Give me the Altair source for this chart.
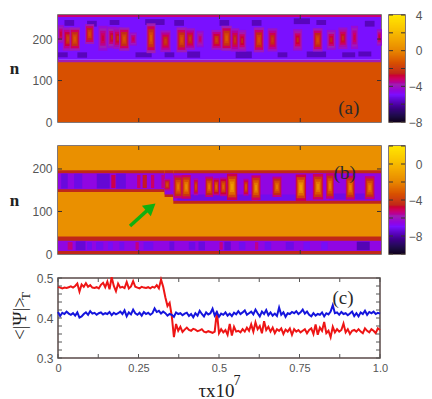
import altair as alt
import pandas as pd

SERIF = "Liberation Serif"
SANS = "Liberation Sans"
GREY = "#555555"
FRAME = "#5a4a48"
TICK = "#3a3030"

# colour ramp, as fractions of the colour bar from bottom to top
stops = [0.0, 0.12, 0.25, 0.35, 0.45, 0.55, 0.67, 0.85, 1.0]
palette = ["#100020", "#3a0080", "#7a10ff", "#a020b0", "#c02818", "#d85000", "#e88a00", "#f8c000", "#ffe800"]

# ---------- panel (a) -------------
a_bands = [
    [0, 1, 0, 146, -1.4], [0, 1, 144, 150, -3.9], [0, 1, 150, 253, -5.0], [0, 1, 253, 258, -3.3],
]
a_dark = [
    [.02, .05, 232, 246], [.06, .09, 155, 168], [.09, .12, 230, 244], [.27, .33, 234, 248], [.24, .29, 156, 168],
    [.36, .39, 232, 246], [.40, .44, 155, 170], [.50, .53, 232, 246], [.55, .60, 154, 170], [.60, .63, 232, 246],
    [.73, .78, 236, 250], [.80, .83, 234, 246], [.77, .83, 156, 170], [.88, .92, 156, 168], [.95, .98, 230, 244],
    [.16, .19, 234, 246], [.68, .71, 156, 168], [.33, .36, 156, 168], [.93, .97, 158, 170], [.00, .03, 156, 168],
]
# tau, n, half width, half height, peak
a_blobs = [
    [.009, 212, .009, 22, -2.8], [.031, 200, .016, 28, -2.0], [.052, 200, .016, 28, -1.3], [.098, 212, .014, 24, -1.6],
    [.139, 202, .014, 30, -2.9], [.167, 204, .014, 26, -2.6], [.185, 202, .014, 26, -2.4], [.205, 200, .016, 28, -1.4],
    [.233, 200, .011, 16, -3.0], [.288, 202, .014, 36, -1.2], [.333, 195, .016, 26, -2.2], [.383, 198, .016, 30, -1.4],
    [.409, 200, .015, 26, -2.2], [.440, 200, .011, 20, -3.2], [.491, 198, .016, 24, -2.0], [.522, 202, .016, 30, -1.2],
    [.548, 198, .013, 28, -2.3], [.570, 196, .013, 26, -2.5], [.622, 198, .016, 30, -1.5], [.664, 198, .015, 28, -2.2],
    [.742, 198, .014, 26, -2.5], [.804, 198, .015, 28, -1.6], [.846, 198, .014, 24, -2.6], [.882, 202, .014, 26, -2.4],
    [.918, 204, .011, 28, -3.0], [.995, 204, .008, 20, -2.8],
]

# ---------- panel (b) -------------
orange = -1.7
edge = -4.6
purple = -6.6
b_bands = [
    [0, 1, 0, 254, orange],
    [0, 1, 0, 41, edge], [0, 1, 7, 31, purple],
    [0, .33, 146, 197, edge], [0, .33, 152, 190, purple],
    [.33, .357, 134, 197, edge], [.33, .357, 140, 190, purple],
    [.357, 1, 118, 197, edge], [.357, 1, 125, 190, purple],
]
# tau0, tau1, n0, n1, value
b_patches = [
    [.01, .03, 154, 189, -7.4], [.05, .075, 154, 189, -7.3], [.12, .16, 154, 189, -7.5], [.18, .21, 154, 189, -7.4],
    [.165, .178, 155, 186, -5.0], [.245, .255, 155, 186, -5.2], [.262, .275, 155, 186, -4.7], [.288, .298, 155, 186, -5.2],
    [.32, .33, 155, 186, -5.4],
    [.055, .085, 9, 30, -7.5], [.09, .105, 10, 28, -7.2], [.118, .14, 10, 28, -7.2], [.155, .17, 10, 28, -7.1],
    [.19, .205, 10, 28, -7.2], [.265, .295, 10, 28, -7.2], [.345, .36, 9, 29, -7.4], [.405, .425, 10, 28, -7.3],
    [.435, .455, 9, 29, -7.4], [.515, .535, 9, 29, -7.5], [.56, .58, 10, 28, -7.2], [.64, .66, 10, 28, -7.2],
    [.705, .73, 10, 28, -7.3], [.76, .78, 10, 28, -7.1], [.815, .835, 10, 28, -7.1], [.925, .965, 9, 29, -7.9],
    [.03, .045, 10, 28, -5.4], [.24, .25, 10, 28, -5.4], [.50, .51, 10, 28, -5.4], [.61, .62, 10, 28, -5.5],
    [.37, .60, 126, 140, -7.3], [.62, .76, 126, 140, -7.2], [.84, .98, 128, 142, -7.3],
]
b_blobs = [
    [.338, 163, .010, 14, -3.6], [.372, 158, .013, 27, -2.4], [.397, 158, .014, 28, -1.9], [.427, 158, .007, 20, -3.6],
    [.468, 158, .012, 24, -2.5], [.49, 158, .009, 20, -2.9], [.512, 158, .011, 22, -3.0], [.539, 158, .016, 31, -1.3],
    [.582, 157, .008, 20, -3.4], [.613, 156, .014, 29, -1.8], [.678, 158, .014, 24, -2.5], [.752, 156, .016, 31, -1.2],
    [.805, 158, .016, 30, -1.8], [.842, 160, .012, 30, -2.2], [.905, 156, .014, 28, -2.1], [.965, 156, .015, 27, -2.3],
]
blob_levels = [[1.0, .3], [.8, .5], [.6, .7], [.4, .87], [.22, 1.0]]

def rows(bands, patches, blobs, bg):
    out = [list(b) for b in bands] + [list(p) for p in patches]
    for t, n, hw, hh, peak in blobs:
        for scale, frac in blob_levels:
            out.append([t - hw * scale, t + hw * scale, n - hh * scale, n + hh * scale, bg + (peak - bg) * frac])
    return pd.DataFrame(out, columns=["x0", "x1", "n0", "n1", "v"])

def color_scale(lo, hi):
    return alt.Scale(domain=[lo + s * (hi - lo) for s in stops], range=palette, clamp=True)

def ticks(xvals, yvals, xdom, ydom, h, w, size=4, color=TICK):
    xd = pd.DataFrame({"t": xvals})
    yd = pd.DataFrame({"t": yvals})
    xs = alt.Scale(domain=xdom)
    ys = alt.Scale(domain=ydom)
    layers = []
    for y0, y1 in [(0, size), (h - size, h)]:
        layers.append(alt.Chart(xd).mark_rule(color=color, strokeWidth=1).encode(
            x=alt.X("t:Q", scale=xs, axis=None), y=alt.value(y0), y2=alt.value(y1)))
    for x0, x1 in [(0, size), (w - size, w)]:
        layers.append(alt.Chart(yd).mark_rule(color=color, strokeWidth=1).encode(
            y=alt.Y("t:Q", scale=ys, axis=None), x=alt.value(x0), x2=alt.value(x1)))
    return layers

def label(text, t, n, xdom, ydom):
    d = pd.DataFrame({"t": [t], "n": [n], "s": [text]})
    return alt.Chart(d).mark_text(font=SERIF, fontSize=19, color="#2a2a2a", align="center", baseline="middle").encode(
        x=alt.X("t:Q", scale=alt.Scale(domain=xdom), axis=None),
        y=alt.Y("n:Q", scale=alt.Scale(domain=ydom), axis=None), text="s:N")

def heat(df, lo, hi, ydom, height):
    return alt.Chart(df).mark_rect(strokeWidth=0, opacity=1).encode(
        x=alt.X("x0:Q", scale=alt.Scale(domain=[0, 1]), title=None,
                axis=alt.Axis(labels=False, ticks=False, domain=False, grid=False, title=None, values=[.25, .5, .75])),
        x2="x1:Q",
        y=alt.Y("n0:Q", scale=alt.Scale(domain=ydom),
                axis=alt.Axis(values=[0, 100, 200], ticks=False, domain=False, grid=False, title="n",
                              titleFont=SERIF, titleFontSize=17, titleFontWeight="bold", titleAngle=0,
                              titleColor="#222222", titlePadding=18, titleBaseline="middle",
                              labelFont=SANS, labelFontSize=12, labelColor=GREY, labelPadding=6)),
        y2="n1:Q",
        color=alt.Color("v:Q", scale=color_scale(lo, hi), legend=None),
    ).properties(width=323, height=height)

def colorbar(lo, hi, ydom, height, tick_vals, label_vals):
    steps = 120
    vals = [ydom[0] + (ydom[1] - ydom[0]) * i / steps for i in range(steps)]
    d = pd.DataFrame({"v": vals, "v2": [v + (ydom[1] - ydom[0]) / steps * 2.5 for v in vals[:-2]] + [ydom[1], ydom[1]]})
    bar = alt.Chart(d).mark_rect(strokeWidth=0, opacity=1).encode(
        x=alt.value(0), x2=alt.value(16),
        y=alt.Y("v:Q", scale=alt.Scale(domain=ydom),
                axis=alt.Axis(orient="right", values=label_vals, ticks=False, domain=False, grid=False, title=None,
                              labelFont=SANS, labelFontSize=12, labelColor=GREY, labelAlign="right", labelPadding=17)),
        y2="v2:Q",
        color=alt.Color("v:Q", scale=color_scale(lo, hi), legend=None),
    )
    td = pd.DataFrame({"t": tick_vals})
    ts = alt.Scale(domain=ydom)
    l = alt.Chart(td).mark_rule(color=TICK, strokeWidth=1).encode(
        y=alt.Y("t:Q", scale=ts, axis=None), x=alt.value(0), x2=alt.value(4))
    r = alt.Chart(td).mark_rule(color=TICK, strokeWidth=1).encode(
        y=alt.Y("t:Q", scale=ts, axis=None), x=alt.value(12), x2=alt.value(16))
    return alt.layer(bar, l, r).resolve_axis(y="independent").properties(width=16, height=height)

# panel a
a_dom = [0, 258]
a_rows = rows(a_bands, [p + [-5.8] for p in a_dark], a_blobs, -5.0)
chart_a = alt.layer(
    heat(a_rows, -8, 4, a_dom, 107),
    *ticks([.25, .5, .75], [100, 200], [0, 1], a_dom, 107, 323),
    label("(a)", .9, 34, [0, 1], a_dom),
).resolve_axis(x="independent", y="independent").properties(width=323, height=107)
bar_a = colorbar(-8, 4, [-8, 4], 107, [-8, -6, -4, -2, 0, 2, 4], [-8, -4, 0, 4])

# panel b
b_dom = [0, 254]
b_rows = rows(b_bands, b_patches, b_blobs, purple)
arrow_t = [.223, .29]
arrow_n = [66, 112]
arrow_line = alt.Chart(pd.DataFrame({"t": arrow_t, "n": arrow_n})).mark_line(color="#10b010", strokeWidth=3.5).encode(
    x=alt.X("t:Q", scale=alt.Scale(domain=[0, 1]), axis=None),
    y=alt.Y("n:Q", scale=alt.Scale(domain=b_dom), axis=None))
arrow_head = alt.Chart(pd.DataFrame({"t": [.283], "n": [107]})).mark_point(
    shape="triangle", filled=True, size=190, angle=50, color="#10b010", opacity=1).encode(
    x=alt.X("t:Q", scale=alt.Scale(domain=[0, 1]), axis=None),
    y=alt.Y("n:Q", scale=alt.Scale(domain=b_dom), axis=None))
chart_b = alt.layer(
    heat(b_rows, -10, 2, b_dom, 108),
    *ticks([.25, .5, .75], [100, 200], [0, 1], b_dom, 108, 323),
    arrow_line, arrow_head,
    label("(b)", .888, 190, [0, 1], b_dom),
).resolve_axis(x="independent", y="independent").properties(width=323, height=108)
bar_b = colorbar(-10, 2, [-10, 2], 108, [-10, -8, -6, -4, -2, 0, 2], [-8, -4, 0])

# ---------- panel (c) -------------
red = [
    478, 476, 474, 476, 475, 477, 479, 476, 480, 486,
    466, 484, 478, 487, 478, 482, 476, 475, 477, 474,
    483, 488, 477, 491, 472, 502, 480, 467, 486, 476,
    478, 475, 490, 474, 479, 492, 478, 476, 474, 478,
    476, 475, 477, 474, 478, 476, 482, 474, 496, 478,
    452, 430, 438, 405, 352, 385, 368, 378, 365, 371,
    376, 370, 368, 373, 371, 367, 369, 372, 366, 364,
    367, 365, 363, 366, 416, 362, 372, 364, 370, 358,
    385, 356, 378, 366, 368, 364, 372, 366, 376, 368,
    384, 366, 389, 372, 380, 362, 392, 370, 378, 366,
    376, 362, 372, 368, 374, 360, 371, 366, 374, 358,
    372, 366, 370, 364, 368, 372, 362, 370, 374, 360,
    384, 358, 376, 368, 390, 362, 368, 352, 378, 364,
    372, 366, 370, 386, 364, 372, 360, 368, 370, 366,
    372, 366, 362, 374, 368, 364, 372, 368, 362, 374, 370,
]
blue = [
    415, 405, 413, 410, 416, 411, 408, 412, 406, 414,
    401, 404, 410, 414, 408, 417, 411, 413, 408, 412,
    414, 409, 412, 410, 415, 407, 413, 409, 412, 416,
    410, 419, 404, 414, 409, 421, 412, 408, 413, 406,
    415, 410, 413, 408, 412, 424, 415, 418, 411, 416,
    412, 406, 410, 408, 403, 414, 410, 412, 407, 411,
    413, 405, 410, 402, 412, 406, 418, 410, 404, 414,
    409, 412, 423, 406, 415, 403, 411, 408, 414, 406,
    411, 405, 413, 409, 417, 410, 414, 419, 408, 412,
    416, 409, 421, 412, 404, 416, 410, 420, 407, 414,
    406, 411, 405, 426, 408, 414, 403, 412, 410, 415,
    412, 417, 410, 414, 421, 411, 416, 408, 404, 412,
    406, 410, 408, 414, 404, 412, 409, 416, 432, 412,
    414, 408, 415, 410, 412, 407, 411, 416, 405, 412,
    404, 414, 410, 418, 408, 415, 412, 416, 410, 413, 411,
]
c_df = pd.DataFrame({"t": [i / 150 for i in range(151)], "red": [v / 1000 for v in red], "blue": [v / 1000 for v in blue]})
c_xdom = [0, 1]
c_ydom = [.3, .5]
c_x_ticks = [i * .125 for i in range(9)]
c_y_ticks = [.3 + i * .02 for i in range(11)]
base_x = alt.X("t:Q", scale=alt.Scale(domain=c_xdom),
               axis=alt.Axis(values=[0, .25, .5, .75, 1.0], labelExpr="datum.value == 1 ? '1.0' : datum.value == 0 ? '0' : format(datum.value, '.3~f')",
                             ticks=False, domain=False, grid=False, title="τx10", titleFont=SERIF, titleFontSize=19,
                             titleFontWeight="normal", titleColor="#222222", titlePadding=8, titleX=158,
                             labelFont=SANS, labelFontSize=11, labelColor=GREY, labelPadding=4, labelFlush=False))
base_y = alt.Y("red:Q", scale=alt.Scale(domain=c_ydom),
               axis=alt.Axis(values=[.3, .4, .5], format=".1f", ticks=False, domain=False, grid=False, title="<|Ψ|>",
                             titleFont=SERIF, titleFontSize=19, titleFontWeight="normal", titleColor="#222222", titlePadding=7,
                             labelFont=SANS, labelFontSize=12, labelColor=GREY, labelPadding=5))
red_line = alt.Chart(c_df).mark_line(color="#ee1515", strokeWidth=2).encode(x=base_x, y=base_y)
blue_line = alt.Chart(c_df).mark_line(color="#1515dd", strokeWidth=2).encode(
    x=alt.X("t:Q", scale=alt.Scale(domain=c_xdom), axis=None),
    y=alt.Y("blue:Q", scale=alt.Scale(domain=c_ydom), axis=None))
sub_t = alt.Chart(pd.DataFrame({"s": ["T"]})).mark_text(font=SERIF, fontSize=13, color="#222222", angle=270).encode(
    x=alt.value(-32), y=alt.value(18), text="s:N")
sup_7 = alt.Chart(pd.DataFrame({"s": ["7"]})).mark_text(font=SERIF, fontSize=14, color="#222222").encode(
    x=alt.value(179), y=alt.value(103), text="s:N")
chart_c = alt.layer(
    red_line, blue_line,
    *ticks(c_x_ticks, c_y_ticks, c_xdom, c_ydom, 80, 322, color=GREY),
    label("(c)", .885, .45, c_xdom, c_ydom),
    sub_t, sup_7,
).resolve_axis(x="independent", y="independent").properties(width=322, height=80)

chart = alt.concat(chart_a, bar_a, chart_b, bar_b, chart_c, columns=2,
                   spacing=alt.RowColnumber(row=24, column=8), bounds="flush").resolve_scale(color="independent").properties(
    padding={"left": 0, "top": 0, "right": 0, "bottom": 6}, background="white"
).configure_view(stroke=FRAME, strokeWidth=1.5)

chart.save("out.html", embed_options={"renderer": "svg", "actions": False})
